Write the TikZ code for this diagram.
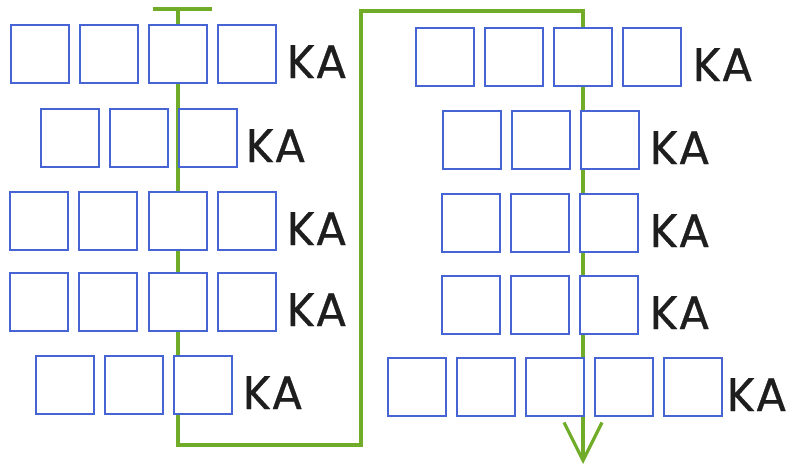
\documentclass[tikz,border=0pt]{standalone}
\usepackage{fontspec}
\setmainfont{Poppins}
\usetikzlibrary{arrows.meta}
\definecolor{boxblue}{RGB}{70,100,212}
\definecolor{linegreen}{RGB}{112,172,40}
\definecolor{textdark}{RGB}{30,30,30}
\begin{document}
\begin{tikzpicture}[x=1pt,y=-1pt,
  sq/.style={draw=boxblue,fill=white,line width=2pt,minimum width=58pt,minimum height=58pt,inner sep=0pt},
  ka/.style={anchor=base west,inner sep=0pt,text=textdark,font=\fontsize{47}{47}\selectfont\addfontfeature{FakeBold=0.6}},
  path/.style={draw=linegreen,line width=3.2pt},
  tee/.style={draw=linegreen,line width=4.2pt}]
\useasboundingbox (0,0) rectangle (792,467);
% green path
\coordinate (start) at (178,9);
\coordinate (c1) at (178,445);
\coordinate (c2) at (361,445);
\coordinate (c3) at (361,11);
\coordinate (c4) at (583,11);
\coordinate (finish) at (583,464);
\coordinate (teeL) at (153,9);
\coordinate (teeR) at (212,9);
\draw[tee] (teeL) -- (teeR);
\draw[path,-{Straight Barb[length=38pt,width=38pt,line width=3.2pt]}] (start) -- (c1) -- (c2) -- (c3) -- (c4) -- (finish);
% boxes and labels
\foreach \nm/\xo/\yt/\n/\st/\kx in {
  L1/10/24/4/69.3/287, L2/40/108/3/69/246, L3/9.5/191/4/69.3/287, L4/9.5/272/4/69.3/287, L5/35/355/3/69/243,
  R1/415/27/4/69.3/693, R2/442/110/3/69/650, R3/441/193/3/69/650, R4/441/275/3/69/650, R5/387/357/5/69.2/727}{
  \foreach \i in {1,...,\n}{
    \node[sq] (\nm-\i) at ({\xo+(\i-1)*\st+29.5},{\yt+29.5}) {};
  }
  \node[ka] (\nm-ka) at (\kx,{\yt+54}) {KA};
}
\end{tikzpicture}
\end{document}
